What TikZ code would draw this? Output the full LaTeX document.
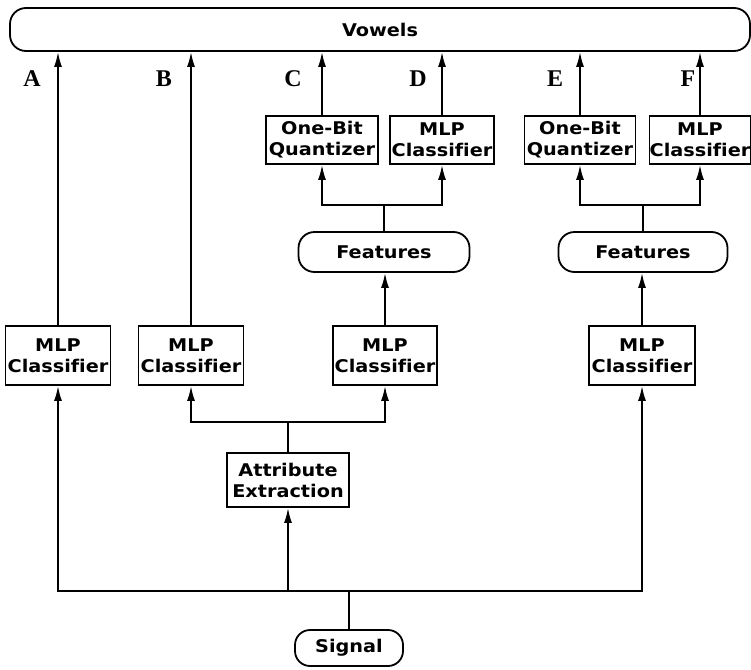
\documentclass[tikz,border=0pt]{standalone}
\usepackage{fontspec}
\setmainfont{DejaVu Sans}[Ligatures=NoCommon, FakeStretch=1.1]
\newfontfamily\lblfont{Liberation Serif}
\usetikzlibrary{arrows.meta}

\begin{document}
\begin{tikzpicture}[x=1pt, y=-1pt, line width=1.8pt,
  font=\fontsize{17.5}{21}\selectfont\bfseries,
  box/.style={draw, rectangle, align=center, inner sep=0pt},
  pill/.style={draw, rounded corners=16pt, align=center, inner sep=0pt},
  arr/.style={-{Latex[length=15pt,width=8pt]}},
  lbl/.style={font=\fontsize{24}{24}\selectfont\lblfont\bfseries}]
\useasboundingbox (0,0) rectangle (751,669);
\node[pill, minimum width=740, minimum height=43] (vowels) at (380,29.5) {Vowels};
\node[box, minimum width=112, minimum height=48] (qC) at (322,140) {One-Bit\\Quantizer};
\node[box, minimum width=104, minimum height=48] (mlpD) at (442,140) {MLP\\Classifier};
\node[box, minimum width=111, minimum height=48] (qE) at (580,140) {One-Bit\\Quantizer};
\node[box, minimum width=101, minimum height=48] (mlpF) at (700,140) {MLP\\Classifier};
\node[pill, minimum width=171, minimum height=40] (featL) at (384,252) {Features};
\node[pill, minimum width=169, minimum height=40] (featR) at (643,252) {Features};
\node[box, minimum width=105, minimum height=59] (mlpA) at (58,355.5) {MLP\\Classifier};
\node[box, minimum width=105, minimum height=59] (mlpB) at (191,355.5) {MLP\\Classifier};
\node[box, minimum width=104, minimum height=59] (mlpC) at (385,355.5) {MLP\\Classifier};
\node[box, minimum width=106, minimum height=59] (mlpR) at (642,355.5) {MLP\\Classifier};
\node[box, minimum width=122, minimum height=54] (attr) at (288,480) {Attribute\\Extraction};
\node[pill, rounded corners=15pt, minimum width=108, minimum height=36] (signal) at (349,648) {Signal};
\foreach \x/\l in {32/A,164/B,293/C,418/D,555/E,688/F}
  \node[lbl] (lab\l) at (\x,79) {\l};
\foreach \n in {mlpA,mlpB,qC,mlpD,qE,mlpF}
  \draw[arr] (\n.north) -- (\n.north |- vowels.south);
\draw[arr] (signal.north) -- ++(0,-38) -| (mlpA.south);
\draw[arr] (signal.north) -- ++(0,-38) -| (attr.south);
\draw[arr] (signal.north) -- ++(0,-38) -| (mlpR.south);
\draw[arr] (attr.north) -- ++(0,-30) -| (mlpB.south);
\draw[arr] (attr.north) -- ++(0,-30) -| (mlpC.south);
\draw[arr] (mlpC.north) -- (mlpC.north |- featL.south);
\draw[arr] (mlpR.north) -- (mlpR.north |- featR.south);
\draw[arr] (featL.north) -- ++(0,-26) -| (qC.south);
\draw[arr] (featL.north) -- ++(0,-26) -| (mlpD.south);
\draw[arr] (featR.north) -- ++(0,-26) -| (qE.south);
\draw[arr] (featR.north) -- ++(0,-26) -| (mlpF.south);
\end{tikzpicture}
\end{document}
